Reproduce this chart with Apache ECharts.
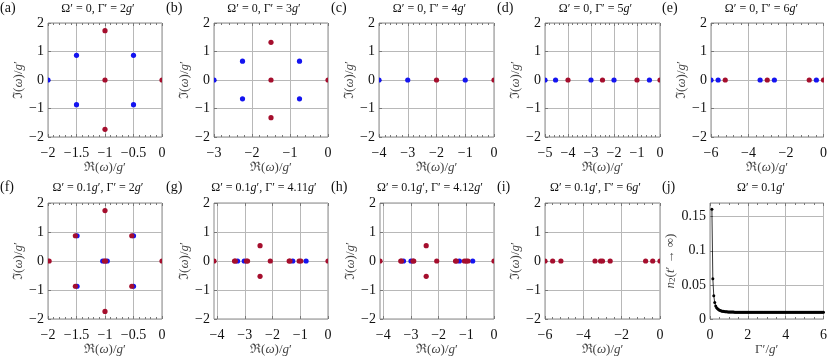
<!DOCTYPE html>
<html>
<head>
<meta charset="utf-8">
<script src="https://cdn.jsdelivr.net/npm/echarts@6/dist/echarts.min.js"></script>
<style>
  html, body { margin: 0; background: #fff; }
  #main { width: 830px; height: 360px; }
</style>
</head>
<body>
<div id="main"></div>
<script>
// poles [Re(w)/g', Im(w)/g']
const redA = [[-1, 1.732], [-1, 0], [-1, -1.732], [0, 0]];
const blueA = [[-2, 0], [-1.5, 0.866], [-0.5, 0.866], [-1.5, -0.866], [-0.5, -0.866]];

const redB = [[-1.5, 1.323], [-1.5, 0], [-1.5, -1.323], [0, 0]];
const blueB = [[-3, 0], [-2.25, 0.661], [-0.75, 0.661], [-2.25, -0.661], [-0.75, -0.661]];

const redC = [[-2, 0], [0, 0]];
const blueC = [[-4, 0], [-3, 0], [-1, 0]];

const redD = [[-4, 0], [-2.5, 0], [-1, 0], [0, 0]];
const blueD = [[-5, 0], [-4.54, 0], [-3, 0], [-2, 0], [-0.46, 0]];

const redE = [[-5.24, 0], [-3, 0], [-0.76, 0], [0, 0]];
const blueE = [[-6, 0], [-5.62, 0], [-3.38, 0], [-2.62, 0], [-0.38, 0]];

const redF = [[-1, 1.74], [-1.52, 0.87], [-0.53, 0.87], [-1.98, 0], [-1.01, 0], [-0.99, 0], [0, 0],
  [-1.52, -0.87], [-0.53, -0.87], [-1, -1.74]];
const blueF = [[-1.49, 0.87], [-0.5, 0.87], [-1.04, 0], [-0.96, 0], [-1.49, -0.87], [-0.5, -0.87]];

const redG = [[-4.11, 0], [-3.37, 0], [-3.34, 0], [-2.94, 0], [-2.9, 0], [-2.08, 0], [-1.4, 0], [-1.37, 0],
  [-1.04, 0], [-0.98, 0], [0, 0], [-2.45, 0.53], [-2.45, -0.53]];
const blueG = [[-3.26, 0], [-3.02, 0], [-1.27, 0], [-0.79, 0]];

const redH = [[-4.12, 0], [-3.37, 0], [-3.34, 0], [-2.93, 0], [-2.9, 0], [-2.07, 0], [-1.39, 0], [-1.36, 0],
  [-1.07, 0], [-1.0, 0], [-0.94, 0], [0, 0], [-2.45, 0.53], [-2.45, -0.53]];
const blueH = [[-3.27, 0], [-3.0, 0], [-1.25, 0], [-0.77, 0]];

const redI = [[-6, 0], [-5.6, 0], [-5.17, 0], [-3.39, 0], [-3.1, 0], [-3.0, 0], [-2.6, 0],
  [-0.75, 0], [-0.38, 0], [0, 0]];

// panel (j): steady-state n2 vs Gamma'
const jGamma = [
  0.1, 0.15, 0.2, 0.25, 0.3, 0.35, 0.4, 0.45, 0.5, 0.55, 0.6, 0.65, 0.7, 0.75, 0.8, 0.85, 0.9, 0.95,
  1, 1.05, 1.1, 1.15, 1.2, 1.25, 1.3, 1.35, 1.4, 1.45, 1.5, 1.55, 1.6, 1.65, 1.7, 1.75, 1.8, 1.85, 1.9, 1.95,
  2, 2.05, 2.1, 2.15, 2.2, 2.25, 2.3, 2.35, 2.4, 2.45, 2.5, 2.55, 2.6, 2.65, 2.7, 2.75, 2.8, 2.85, 2.9, 2.95,
  3, 3.05, 3.1, 3.15, 3.2, 3.25, 3.3, 3.35, 3.4, 3.45, 3.5, 3.55, 3.6, 3.65, 3.7, 3.75, 3.8, 3.85, 3.9, 3.95,
  4, 4.05, 4.1, 4.15, 4.2, 4.25, 4.3, 4.35, 4.4, 4.45, 4.5, 4.55, 4.6, 4.65, 4.7, 4.75, 4.8, 4.85, 4.9, 4.95,
  5, 5.05, 5.1, 5.15, 5.2, 5.25, 5.3, 5.35, 5.4, 5.45, 5.5, 5.55, 5.6, 5.65, 5.7, 5.75, 5.8, 5.85, 5.9, 5.95,
  6
];
const jN2 = [
  0.161, 0.059, 0.034, 0.024, 0.019, 0.0165, 0.015, 0.0138, 0.013, 0.0124, 0.0119, 0.0115, 0.0112, 0.011, 0.0108, 0.0106, 0.0105, 0.0104,
  0.0103, 0.0102, 0.0102, 0.0101, 0.0101, 0.0101, 0.0100, 0.0100, 0.0100, 0.0100, 0.0100, 0.0100, 0.0100, 0.0100, 0.0100, 0.0100, 0.0100, 0.0100, 0.0100, 0.0100,
  0.0100, 0.0100, 0.0100, 0.0100, 0.0100, 0.0100, 0.0100, 0.0100, 0.0100, 0.0100, 0.0100, 0.0100, 0.0100, 0.0100, 0.0100, 0.0100, 0.0100, 0.0100, 0.0100, 0.0100,
  0.0099, 0.0099, 0.0099, 0.0099, 0.0099, 0.0099, 0.0099, 0.0099, 0.0099, 0.0099, 0.0099, 0.0099, 0.0099, 0.0099, 0.0099, 0.0099, 0.0099, 0.0099, 0.0099, 0.0099,
  0.0099, 0.0099, 0.0099, 0.0099, 0.0099, 0.0099, 0.0099, 0.0099, 0.0099, 0.0099, 0.0099, 0.0099, 0.0099, 0.0099, 0.0099, 0.0099, 0.0099, 0.0099, 0.0099, 0.0099,
  0.0099, 0.0099, 0.0099, 0.0099, 0.0099, 0.0099, 0.0099, 0.0099, 0.0099, 0.0099, 0.0099, 0.0099, 0.0099, 0.0099, 0.0099, 0.0099, 0.0099, 0.0099, 0.0099, 0.0099,
  0.0099
];

const tags = ['(a)', '(b)', '(c)', '(d)', '(e)', '(f)', '(g)', '(h)', '(i)', '(j)'];
const titles = [
  '{n|Ω′ = 0, Γ′ = 2}{i|g}{n|′}',
  '{n|Ω′ = 0, Γ′ = 3}{i|g}{n|′}',
  '{n|Ω′ = 0, Γ′ = 4}{i|g}{n|′}',
  '{n|Ω′ = 0, Γ′ = 5}{i|g}{n|′}',
  '{n|Ω′ = 0, Γ′ = 6}{i|g}{n|′}',
  '{n|Ω′ = 0.1}{i|g}{n|′, Γ′ = 2}{i|g}{n|′}',
  '{n|Ω′ = 0.1}{i|g}{n|′, Γ′ = 4.11}{i|g}{n|′}',
  '{n|Ω′ = 0.1}{i|g}{n|′, Γ′ = 4.12}{i|g}{n|′}',
  '{n|Ω′ = 0.1}{i|g}{n|′, Γ′ = 6}{i|g}{n|′}',
  '{n|Ω′ = 0.1}{i|g}{n|′}'
];
const xMins = [-2, -3, -4, -5, -6, -2, -4.11, -4.12, -6];
const xSteps = [0.5, 1, 1, 1, 2, 0.5, 1, 1, 2];
const reds = [redA, redB, redC, redD, redE, redF, redG, redH, redI];
const blues = [blueA, blueB, blueC, blueD, blueE, blueF, blueG, blueH, []];

// plot boxes [left, top, width, height]
const boxes = [
  [48, 23, 114, 114], [214, 23, 114, 114], [379, 23, 115, 114], [545, 23, 115, 114], [711, 23, 115, 114],
  [48, 203, 114, 116], [214, 203, 114, 116], [380, 203, 114, 116], [545, 203, 115, 116], [710, 203, 116, 116]
];
const tagX = [0, 166, 331, 497, 662];

const SERIF = 'Liberation Serif';
const RED = '#a50e2d';
const BLUE = '#1414f0';
const rich = {
  n: { fontFamily: SERIF, fontSize: 13, color: '#444' },
  i: { fontFamily: SERIF, fontSize: 13, fontStyle: 'italic', color: '#444' },
  s: { fontFamily: SERIF, fontSize: 9, color: '#444', verticalAlign: 'bottom', padding: [6, 0, 0, 0] }
};
const titleRich = {
  n: { fontFamily: SERIF, fontSize: 12, color: '#111' },
  i: { fontFamily: SERIF, fontSize: 12, fontStyle: 'italic', color: '#111' }
};
const fmt = (v) => (v < 0 ? '−' + String(+(-v).toFixed(2)) : String(+v.toFixed(2)));

// dots drawn through the axes, clipped to the plot box like the original
function dots(i, data, color) {
  return {
    type: 'custom', coordinateSystem: 'cartesian2d',
    xAxisIndex: 2 * i, yAxisIndex: i, data: data,
    encode: { x: 0, y: 1 }, clip: true, silent: true,
    renderItem: (params, api) => {
      const p = api.coord([api.value(0), api.value(1)]);
      return { type: 'circle', shape: { cx: p[0], cy: p[1], r: 2.6 }, style: { fill: color } };
    }
  };
}

const grid = [], xAxis = [], yAxis = [], series = [], graphic = [];
const tickStyle = { color: '#777', width: 1 };
const split = { show: true, lineStyle: { color: '#b8b8b8', width: 1 } };
const lbl = { fontFamily: SERIF, fontSize: 14, color: '#111' };

boxes.forEach((b, i) => {
  grid.push({ left: b[0], top: b[1], width: b[2], height: b[3], show: true, borderColor: '#8a8a8a', borderWidth: 1 });
  const isJ = i === 9;
  let xBase;
  if (isJ) {
    xBase = { min: 0, max: 6, interval: 2 };
  } else if (i === 6 || i === 7) {
    xBase = { min: xMins[i], max: 0 };
  } else {
    xBase = { min: xMins[i], max: 0, interval: xSteps[i] };
  }
  const custom = (i === 6 || i === 7) ? [-4, -3, -2, -1, 0] : null;
  const xName = isJ ? '{n|Γ′/}{i|g}{n|′}' : '{n|ℜ(}{i|ω}{n|)/}{i|g}{n|′}';
  xAxis.push(Object.assign({
    gridIndex: i, type: 'value', position: 'bottom',
    axisLine: { show: false, onZero: false },
    axisTick: Object.assign({ inside: true, length: 3, lineStyle: tickStyle }, custom ? { customValues: custom } : {}),
    minorTick: { show: !custom, splitNumber: isJ ? 4 : 5, length: 2, lineStyle: tickStyle },
    splitLine: split,
    axisLabel: Object.assign({ margin: 9, formatter: fmt }, lbl, custom ? { customValues: custom } : {}),
    name: xName, nameLocation: 'middle', nameGap: 22,
    nameTextStyle: { rich: rich }
  }, xBase));
  xAxis.push(Object.assign({
    gridIndex: i, type: 'value', position: 'top',
    axisLine: { show: false, onZero: false },
    axisTick: Object.assign({ inside: true, length: 3, lineStyle: tickStyle }, custom ? { customValues: custom } : {}),
    minorTick: { show: !custom, splitNumber: isJ ? 4 : 5, length: 2, lineStyle: tickStyle },
    splitLine: { show: false },
    axisLabel: { show: false }
  }, xBase));
  yAxis.push({
    gridIndex: i, type: 'value', position: 'left',
    min: isJ ? 0 : -2, max: isJ ? 0.17 : 2, interval: isJ ? 0.05 : 1,
    axisLine: { show: false, onZero: false },
    axisTick: { inside: true, length: 3, lineStyle: tickStyle },
    splitLine: split,
    axisLabel: Object.assign({ margin: 4, formatter: fmt, showMaxLabel: !isJ }, lbl),
    name: isJ ? '{i|n}{s|2}{n|(}{i|t}{n|′ → ∞)}' : '{n|ℑ(}{i|ω}{n|)/}{i|g}{n|′}',
    nameLocation: 'middle', nameGap: isJ ? 29 : 15,
    nameTextStyle: { rich: rich }
  });

  if (isJ) {
    series.push({
      type: 'line', xAxisIndex: 2 * i, yAxisIndex: i,
      data: jGamma.map((g, k) => [g, jN2[k]]),
      symbol: 'circle', symbolSize: 3, showSymbol: true,
      itemStyle: { color: '#000' }, lineStyle: { color: '#000', width: 0.8 },
      silent: true
    });
  } else {
    series.push(dots(i, blues[i], BLUE));
    series.push(dots(i, reds[i], RED));
  }

  const row = i < 5 ? 0 : 1;
  graphic.push({
    type: 'text', x: tagX[i % 5], y: row ? 187 : 8,
    style: { text: tags[i], fontFamily: SERIF, fontSize: 14, fill: '#111', textAlign: 'left', textVerticalAlign: 'middle', align: 'left', verticalAlign: 'middle' }
  });
  graphic.push({
    type: 'text', x: b[0] + b[2] / 2 - 7, y: row ? 188 : 9,
    style: { text: titles[i], rich: titleRich, fontFamily: SERIF, fontSize: 12, fill: '#111', textAlign: 'center', textVerticalAlign: 'middle', align: 'center', verticalAlign: 'middle' }
  });
});

const chart = echarts.init(document.getElementById('main'), null, { renderer: 'canvas' });
chart.setOption({
  animation: false,
  grid: grid,
  xAxis: xAxis,
  yAxis: yAxis,
  series: series,
  graphic: graphic
});
</script>
</body>
</html>
